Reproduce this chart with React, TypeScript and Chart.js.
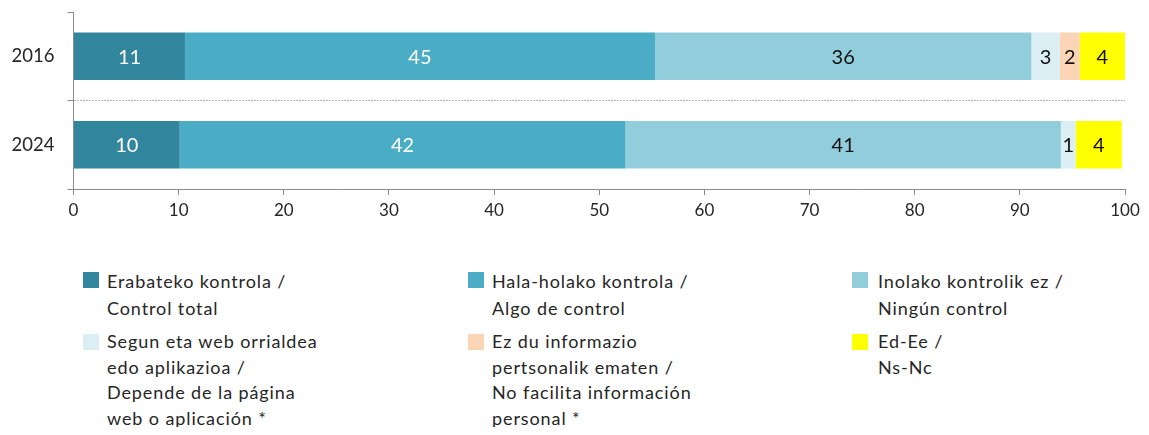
import React, { useEffect, useRef } from "react";
import { Chart, registerables } from "chart.js";

Chart.register(...registerables);

const categories = ["2016", "2024"];
const seriesNames = [
  ["Erabateko kontrola /", "Control total"],
  ["Hala-holako kontrola /", "Algo de control"],
  ["Inolako kontrolik ez /", "Ningún control"],
  ["Segun eta web orrialdea", "edo aplikazioa /", "Depende de la página", "web o aplicación *"],
  ["Ez du informazio", "pertsonalik ematen /", "No facilita información", "personal *"],
  ["Ed-Ee /", "Ns-Nc"],
];
const seriesColors = ["#31859C", "#4BACC6", "#92CDDC", "#DAEEF3", "#FBD5B5", "#FFFF00"];
const labelColors = ["#ffffff", "#ffffff", "#111111", "#111111", "#111111", "#111111"];
const erabateko = [10.6, 10.1];
const halaHolako = [44.7, 42.4];
const inolako = [35.8, 41.4];
const segun = [2.7, 1.4];
const ezDu = [1.9, 0];
const edEe = [4.3, 4.4];
const seriesValues = [erabateko, halaHolako, inolako, segun, ezDu, edEe];
const xTicks = [0, 10, 20, 30, 40, 50, 60, 70, 80, 90, 100];

const FONT = "Lato, 'Open Sans', sans-serif";
const TEXT = "#262626";

const barLabels = {
  id: "barLabels",
  afterDatasetsDraw(chart: any) {
    const ctx = chart.ctx;
    ctx.save();
    ctx.font = `20px ${FONT}`;
    ctx.textAlign = "center";
    ctx.textBaseline = "middle";
    chart.data.datasets.forEach((ds: any, i: number) => {
      const meta = chart.getDatasetMeta(i);
      meta.data.forEach((el: any, j: number) => {
        const v = ds.data[j];
        if (!v) return;
        ctx.fillStyle = labelColors[i];
        ctx.fillText(String(Math.round(v)), (el.x + el.base) / 2, el.y + 1);
      });
    });
    ctx.restore();
  },
};

export default function App() {
  const ref = useRef<HTMLCanvasElement>(null);
  useEffect(() => {
    if (!ref.current) return;
    const chart = new Chart(ref.current, {
      type: "bar",
      data: {
        labels: categories,
        datasets: seriesValues.map((d, i) => ({
          label: seriesNames[i].join(" "),
          data: d,
          backgroundColor: seriesColors[i],
          borderWidth: 0,
          categoryPercentage: 1,
          barPercentage: 0.535,
        })),
      },
      options: {
        indexAxis: "y",
        responsive: false,
        animation: false,
        layout: { padding: { top: 4, right: 16, left: 0, bottom: 0 } },
        plugins: { legend: { display: false }, tooltip: { enabled: false } },
        scales: {
          x: {
            stacked: true,
            min: 0,
            max: 100,
            afterBuildTicks: (scale: any) => {
              scale.ticks = xTicks.map((v) => ({ value: v }));
            },
            afterFit: (scale: any) => {
              scale.height = 34;
              scale.paddingLeft = 0;
              scale.paddingRight = 0;
            },
            grid: { drawOnChartArea: false, drawTicks: true, tickLength: 6, color: "#8c8c8c" },
            border: { display: true, color: "#8c8c8c" },
            ticks: { color: TEXT, font: { family: FONT, size: 17 }, padding: 5, maxRotation: 0 },
          },
          y: {
            stacked: true,
            afterFit: (scale: any) => {
              scale.width = 65.5;
              scale.paddingTop = 0;
              scale.paddingBottom = 0;
            },
            grid: {
              offset: true,
              tickLength: 6,
              color: (c: any) => (c.index === 1 ? "#b4b4b4" : "rgba(0,0,0,0)"),
              tickColor: "#8c8c8c",
            },
            border: { display: true, color: "#8c8c8c", dash: [2, 1] },
            ticks: { color: TEXT, font: { family: FONT, size: 18.5 }, padding: 13 },
          },
        },
      },
      plugins: [barLabels],
    } as any);
    return () => chart.destroy();
  }, []);

  const colX = [[75, 99], [460, 484], [844, 870]];
  const rowTop = [260, 321];
  const rowLine = ["26.5px", "25.5px"];
  return (
    <div style={{ position: "relative", width: 1133, height: 419, fontFamily: FONT }}>
      <canvas ref={ref} width={1133} height={215} style={{ display: "block" }} />
      {seriesNames.map((lines, i) => {
        const col = i % 3;
        const row = Math.floor(i / 3);
        return (
          <div key={i} style={{ position: "absolute", left: colX[col][0], top: rowTop[row] }}>
            <div
              style={{
                position: "absolute",
                left: 0,
                top: row === 0 ? 4 : 5,
                width: 16,
                height: 16,
                background: seriesColors[i],
              }}
            />
            <div
              style={{
                position: "absolute",
                left: colX[col][1] - colX[col][0],
                top: 0,
                fontSize: 18,
                letterSpacing: "0.9px",
                lineHeight: rowLine[row],
                color: TEXT,
                whiteSpace: "nowrap",
              }}
            >
              {lines.map((l, k) => (
                <div key={k}>{l}</div>
              ))}
            </div>
          </div>
        );
      })}
    </div>
  );
}
